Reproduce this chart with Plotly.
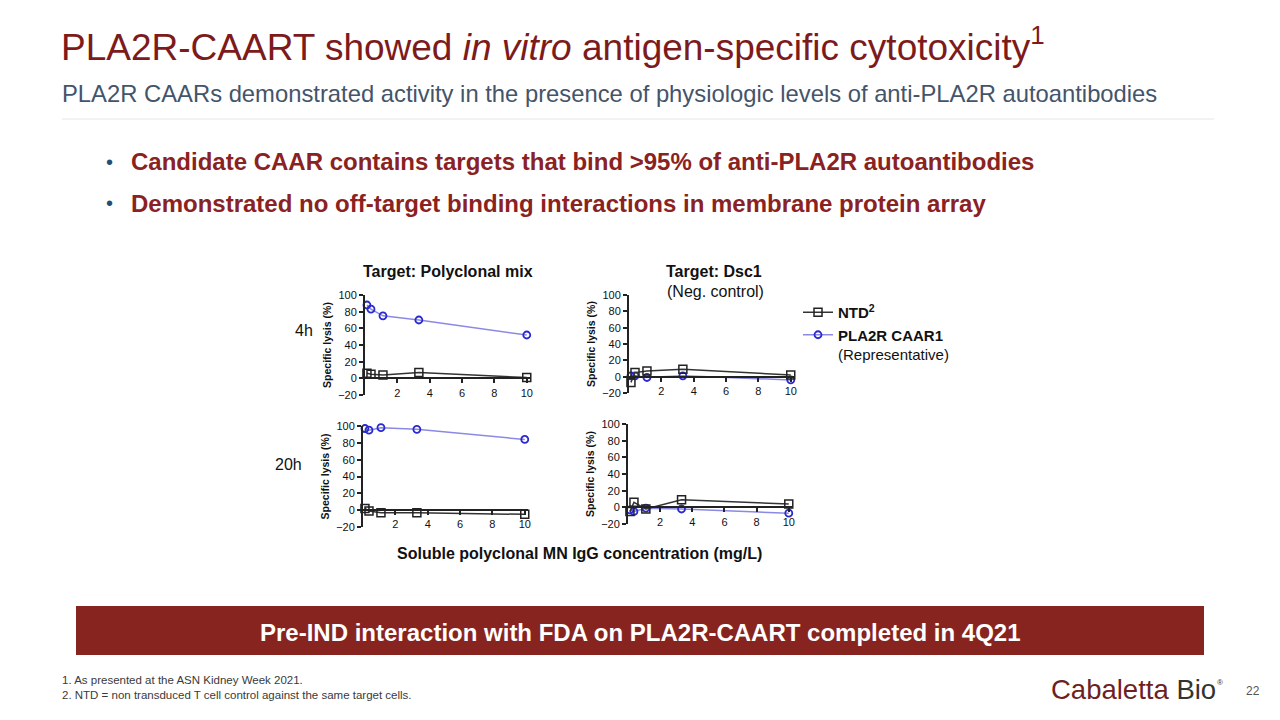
import plotly.graph_objects as go

W, H = 1280, 720

# ---------------- data ----------------
conc = [0.12, 0.37, 1.11, 3.33, 10]
ntd_4h_pla2r = [6, 5, 4, 7, 1]
caar_4h_pla2r = [88, 83, 75, 70, 52]
ntd_4h_dsc1 = [-7, 5, 7, 9, 2]
caar_4h_dsc1 = [1, 1, -1, 1, -4]
ntd_20h_pla2r = [2, -1, -3, -3, -5]
caar_20h_pla2r = [97, 95, 98, 96, 84]
ntd_20h_dsc1 = [-5, 6, -2, 9, 4]
caar_20h_dsc1 = [-3, -5, -1, -2, -7]

y_ticks = [-20, 0, 20, 40, 60, 80, 100]
x_ticks = [2, 4, 6, 8, 10]
series_names = ["<b>NTD<sup>2</sup></b>", "<b>PLA2R CAAR1</b><br>(Representative)"]

FONT = "Liberation Sans, Arial, sans-serif"
RED = "#7d1a1c"
BOX_RED = "#88241f"

def fx(p):
    return p / W

def fy(p):
    return 1 - p / H

fig = go.Figure()

# panel pixel boxes: (left, right, top, bottom)
panels = [
    (365, 530, 295, 395, ntd_4h_pla2r, caar_4h_pla2r),
    (629, 794, 295, 393, ntd_4h_dsc1, caar_4h_dsc1),
    (363, 528, 426, 527, ntd_20h_pla2r, caar_20h_pla2r),
    (628, 792, 424, 524, ntd_20h_dsc1, caar_20h_dsc1),
]

YMIN, YMAX = -20, 100
XMAX = 10.2

for i, (l, r, t, b, ntd, caar) in enumerate(panels):
    n = i + 1
    xa = "x" if n == 1 else f"x{n}"
    ya = "y" if n == 1 else f"y{n}"
    fig.add_trace(go.Scatter(
        x=conc, y=caar, mode="lines+markers", name=series_names[1],
        legendrank=2,
        line=dict(color="#8a8ae6", width=1.5),
        marker=dict(symbol="circle-open", size=7, color="#2a2ad0", line=dict(width=1.8)),
        cliponaxis=False, showlegend=(n == 1), xaxis=xa, yaxis=ya))
    fig.add_trace(go.Scatter(
        x=conc, y=ntd, mode="lines+markers", name=series_names[0],
        legendrank=1,
        line=dict(color="#333333", width=1.5),
        marker=dict(symbol="square-open", size=8, color="#222222", line=dict(width=1.5)),
        cliponaxis=False, showlegend=(n == 1), xaxis=xa, yaxis=ya))

    ydom = [fy(b), fy(t)]
    zero_pos = ydom[0] + (0 - YMIN) / (YMAX - YMIN) * (ydom[1] - ydom[0])
    xkey = "xaxis" if n == 1 else f"xaxis{n}"
    ykey = "yaxis" if n == 1 else f"yaxis{n}"
    fig.update_layout(**{
        xkey: dict(domain=[fx(l), fx(r)], range=[0, XMAX], anchor="free", position=zero_pos,
                   automargin=False,
                   tickvals=x_ticks, ticks="outside", ticklen=4, tickwidth=2, tickcolor="#222",
                   showline=True, linecolor="#222", linewidth=2, showgrid=False, zeroline=False,
                   tickfont=dict(family=FONT, size=11, color="#111")),
        ykey: dict(domain=ydom, range=[YMIN, YMAX], anchor=xa, automargin=False,
                   tickvals=y_ticks, ticks="outside", ticklen=4, tickwidth=1.5, tickcolor="#222",
                   showline=True, linecolor="#222", linewidth=2, showgrid=False, zeroline=False,
                   tickfont=dict(family=FONT, size=11, color="#111"),
                   title=dict(text="<b>Specific lysis (%)</b>", standoff=4,
                              font=dict(family=FONT, size=10.5, color="#111"))),
    })

annotations = []

def ann(text, x, y, size, color="#000", xanchor="left", yanchor="middle"):
    annotations.append(dict(text=text, x=fx(x), y=fy(y), xref="paper", yref="paper",
                            xanchor=xanchor, yanchor=yanchor, showarrow=False,
                            font=dict(family=FONT, size=size, color=color)))

ann("PLA2R-CAART showed <i>in vitro</i> antigen-specific cytotoxicity<sup>1</sup>", 59, 44, 37, RED)
ann("PLA2R CAARs demonstrated activity in the presence of physiologic levels of anti-PLA2R autoantibodies",
    60, 94, 23.8, "#44546a")
ann("•", 104, 162, 20, "#1f4e79")
ann("•", 104, 203, 20, "#1f4e79")
ann("<b>Candidate CAAR contains targets that bind >95% of anti-PLA2R autoantibodies</b>", 129, 162, 24, "#8b2222")
ann("<b>Demonstrated no off-target binding interactions in membrane protein array</b>", 129, 203, 24, "#8b2222")

ann("<b>Target: Polyclonal mix</b>", 448, 271, 16, "#111", xanchor="center")
ann("<b>Target: Dsc1</b>", 714, 271, 16, "#111", xanchor="center")
ann("(Neg. control)", 715, 291, 16, "#111", xanchor="center")
ann("4h", 304, 331, 16, "#111", xanchor="center")
ann("20h", 288, 464, 16, "#111", xanchor="center")
ann("<b>Soluble polyclonal MN IgG concentration (mg/L)</b>", 579, 553, 16, "#111", xanchor="center")

ann("<b>Pre-IND interaction with FDA on PLA2R-CAART completed in 4Q21</b>", 640, 632, 24, "#ffffff",
    xanchor="center")
ann("1. As presented at the ASN Kidney Week 2021.", 60, 680, 11.5, "#3a3a3a")
ann("2. NTD = non transduced T cell control against the same target cells.", 60, 695, 11.5, "#3a3a3a")
ann("<span style='color:#6e1f24'>Cabaletta</span> <span style='color:#333'>Bio</span>",
    1049, 689, 27.5, "#6e1f24")
ann("®", 1215, 682, 8, "#333")
ann("22", 1253, 691, 12, "#555", xanchor="center")

shapes = [
    dict(type="line", xref="paper", yref="paper", x0=fx(62), x1=fx(1214), y0=fy(119), y1=fy(119),
         line=dict(color="#e6e6e6", width=1)),
    dict(type="rect", xref="paper", yref="paper", x0=fx(76), x1=fx(1204), y0=fy(655), y1=fy(606),
         fillcolor=BOX_RED, line=dict(width=0), layer="below"),
]

fig.update_layout(
    width=W, height=H,
    margin=dict(l=0, r=0, t=0, b=0, autoexpand=False),
    paper_bgcolor="white", plot_bgcolor="white",
    font=dict(family=FONT, color="#111"),
    annotations=annotations, shapes=shapes,
    legend=dict(x=fx(798), y=fy(296), xanchor="left", yanchor="top", valign="top",
                font=dict(family=FONT, size=15, color="#111"), bgcolor="rgba(0,0,0,0)",
                itemwidth=30, tracegroupgap=0),
)

fig.write_html("out.html")
